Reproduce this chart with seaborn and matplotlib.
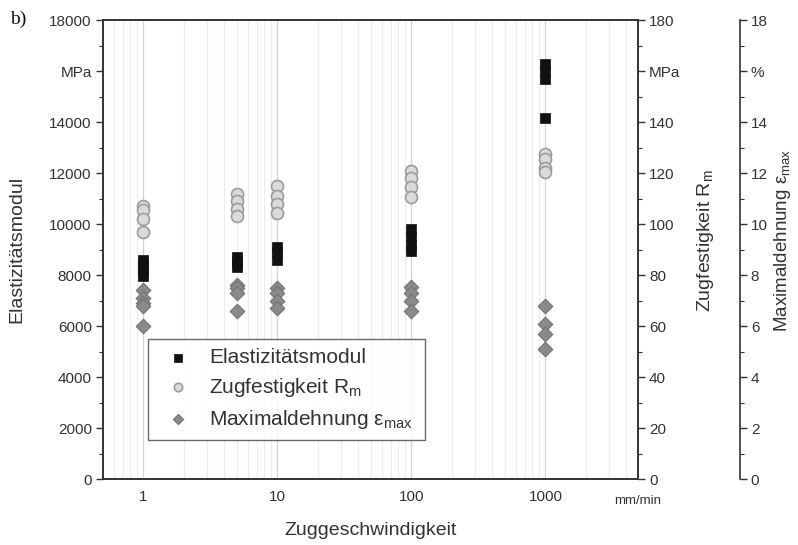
import numpy as np
import pandas as pd
import seaborn as sns
import matplotlib.pyplot as plt
from matplotlib.ticker import LogLocator, MultipleLocator, NullFormatter

# speeds in mm/min and the single measurements per speed
speeds = [1, 5, 10, 100, 1000]
e_modul = [[8600, 8400, 8200, 7950],
           [8700, 8500, 8300],
           [9100, 8900, 8600],
           [9800, 9500, 9200, 8950],
           [16300, 16000, 15700, 14150]]
r_m = [[107, 105.5, 102, 97],
       [112, 109, 106, 103],
       [115, 111, 108, 104.5],
       [121, 118, 114.5, 110.5],
       [127.5, 125.5, 122, 120.5]]
eps_max = [[7.4, 7.1, 6.9, 6.8, 6.0],
           [7.6, 7.5, 7.3, 6.6],
           [7.5, 7.3, 7.0, 6.7],
           [7.55, 7.3, 7.0, 6.6],
           [6.8, 6.1, 5.7, 5.1]]

left_ticks = [0, 2000, 4000, 6000, 8000, 10000, 12000, 14000, 16000, 18000]
left_labels = ['0', '2000', '4000', '6000', '8000', '10000', '12000', '14000', 'MPa', '18000']
rm_ticks = [0, 20, 40, 60, 80, 100, 120, 140, 160, 180]
rm_labels = ['0', '20', '40', '60', '80', '100', '120', '140', 'MPa', '180']
eps_ticks = [0, 2, 4, 6, 8, 10, 12, 14, 16, 18]
eps_labels = ['0', '2', '4', '6', '8', '10', '12', '14', '%', '18']
x_ticks = [1, 10, 100, 1000]
x_labels = ['1', '10', '100', '1000']


def long_form(values):
    xs, ys = [], []
    for s, vals in zip(speeds, values):
        xs += [s] * len(vals)
        ys += vals
    return pd.DataFrame({'speed': xs, 'value': ys})


df_e = long_form(e_modul)
df_r = long_form(r_m)
df_eps = long_form(eps_max)

sns.set_style("white")
plt.rcParams['font.family'] = ['Liberation Sans', 'DejaVu Sans']
plt.rcParams['mathtext.fontset'] = 'custom'
plt.rcParams['mathtext.rm'] = 'Liberation Sans'
txt = '#333333'
plt.rcParams['text.color'] = txt
plt.rcParams['axes.labelcolor'] = txt
plt.rcParams['xtick.color'] = txt
plt.rcParams['ytick.color'] = txt

fig, ax = plt.subplots(figsize=(7.98, 5.45), dpi=100)
fig.subplots_adjust(left=0.129, right=0.7995, top=0.963, bottom=0.121)
ax2 = ax.twinx()
ax3 = ax.twinx()
ax3.spines['right'].set_position(('axes', 1.19))

sns.scatterplot(data=df_e, x='speed', y='value', ax=ax, marker='s', s=55,
                color='#111111', edgecolor='#111111', linewidth=0.5,
                label='Elastizitätsmodul', legend=False, zorder=3)
sns.scatterplot(data=df_r, x='speed', y='value', ax=ax2, marker='o', s=75,
                color='#dadada', edgecolor='#9c9c9c', linewidth=1.2,
                label=r'Zugfestigkeit R$_\mathregular{m}$', legend=False, zorder=3)
sns.scatterplot(data=df_eps, x='speed', y='value', ax=ax3, marker='D', s=55,
                color='#8a8a8a', edgecolor='#737373', linewidth=0.8,
                label=r'Maximaldehnung ε$_\mathregular{max}$', legend=False, zorder=3)

ax.set_xscale('log')
ax.set_xlim(0.5, 4900)
ax.set_ylim(0, 18000)
ax2.set_ylim(0, 180)
ax3.set_ylim(0, 18)

ax.set_xticks(x_ticks)
ax.set_xticklabels(x_labels)
ax.xaxis.set_minor_locator(LogLocator(base=10, subs=np.arange(2, 10)))
ax.xaxis.set_minor_formatter(NullFormatter())
ax.grid(True, which='major', axis='x', color='#d4d4d4', lw=0.9)
ax.grid(True, which='minor', axis='x', color='#ececec', lw=0.8)
ax.grid(False, axis='y')

ax.set_yticks(left_ticks)
ax.set_yticklabels(left_labels)
ax.yaxis.set_minor_locator(MultipleLocator(1000))
ax2.set_yticks(rm_ticks)
ax2.set_yticklabels(rm_labels)
ax2.yaxis.set_minor_locator(MultipleLocator(10))
ax3.set_yticks(eps_ticks)
ax3.set_yticklabels(eps_labels)
ax3.yaxis.set_minor_locator(MultipleLocator(1))

for a in (ax, ax2, ax3):
    a.tick_params(which='major', direction='out', length=5, width=1, labelsize=11, pad=3)
    a.tick_params(which='minor', direction='out', length=3, width=0.8)
    for sp in a.spines.values():
        sp.set_color('#333333')
        sp.set_linewidth(1.2)
ax.tick_params(axis='x', which='both', top=False)
ax.tick_params(axis='y', which='both', left=True, right=False)
ax2.tick_params(axis='y', which='both', right=True, left=False)
ax3.tick_params(axis='y', which='both', right=True, left=False)
ax3.spines['left'].set_visible(False)
ax3.spines['top'].set_visible(False)
ax3.spines['bottom'].set_visible(False)

ax.set_xlabel('Zuggeschwindigkeit', fontsize=14)
ax.set_ylabel('Elastizitätsmodul', fontsize=14)
ax2.set_ylabel(r'Zugfestigkeit R$_\mathregular{m}$', fontsize=14)
ax3.set_ylabel(r'Maximaldehnung ε$_\mathregular{max}$', fontsize=13.5)
ax.xaxis.set_label_coords(0.5, -0.093)
ax.yaxis.set_label_coords(-0.145, 0.5)
ax2.yaxis.set_label_coords(1.106, 0.52)
ax3.yaxis.set_label_coords(1.25, 0.52)

ax.text(1.0, -0.035, 'mm/min', transform=ax.transAxes, ha='center', va='top', fontsize=9.5)
fig.text(0.012, 0.965, 'b)', family=['Liberation Serif', 'DejaVu Serif'], fontsize=14,
         color='#111111', ha='left', va='center')

handles = []
labels = []
for a in (ax, ax2, ax3):
    h, l = a.get_legend_handles_labels()
    handles += h
    labels += l
leg = ax3.legend(handles, labels, loc='upper left',
                 bbox_to_anchor=(0.084, 0.085, 0.5185, 0.221), mode='expand',
                 frameon=True, fancybox=False, fontsize=15, borderpad=0.45,
                 handletextpad=0.5, labelspacing=0.42, borderaxespad=0,
                 markerscale=0.7)
leg.get_frame().set_edgecolor('#444444')
leg.get_frame().set_linewidth(1.0)

fig.savefig('out.png', dpi=100)
